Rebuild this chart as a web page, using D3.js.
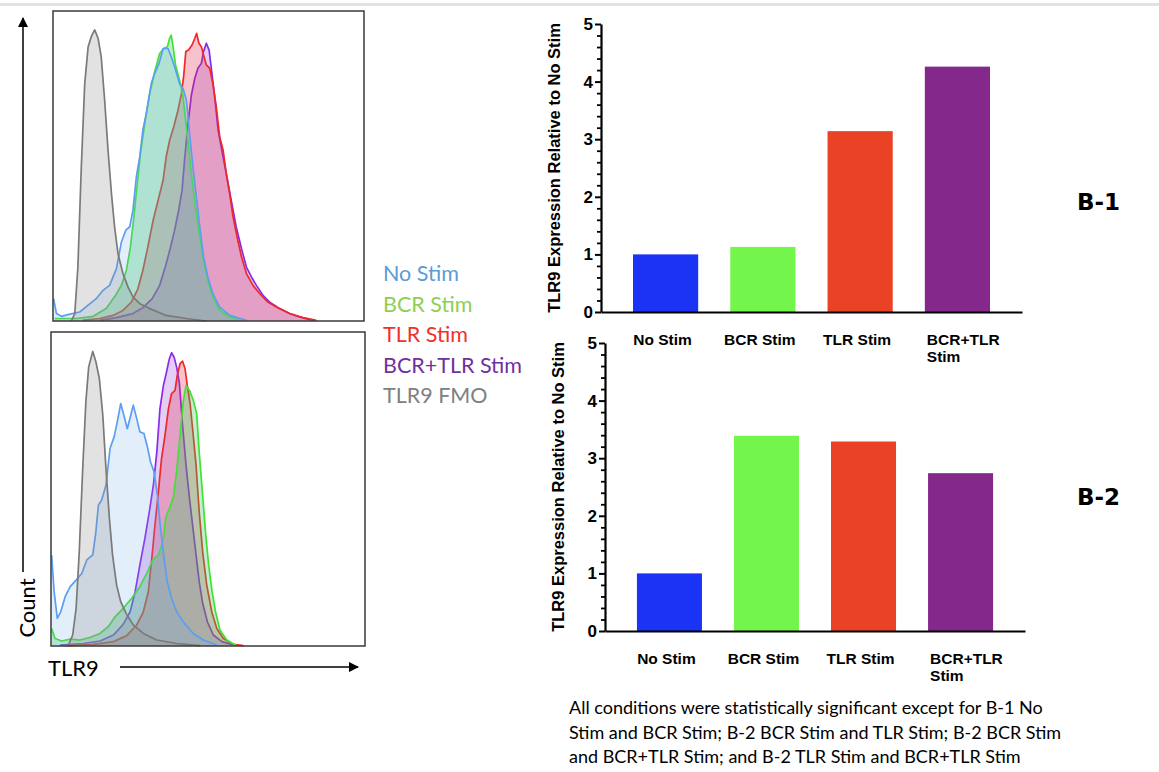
<!DOCTYPE html>
<html>
<head>
<meta charset="utf-8">
<script src="https://cdn.jsdelivr.net/npm/d3@7"></script>
<style>
  body { margin: 0; background: #fff; }
  svg { display: block; }
</style>
</head>
<body>
<div id="figure"></div>
<script>
// ---- Bar chart data (TLR9 expression relative to No Stim)
const categories = ["No Stim", "BCR Stim", "TLR Stim", "BCR+TLR Stim"];
const barColors = ["#1a33f5", "#73f54b", "#e94225", "#84298b"];
const b1Values = [1.0, 1.13, 3.14, 4.26];
const b2Values = [1.0, 3.39, 3.29, 2.74];
const yTicks = [0, 1, 2, 3, 4, 5];
const yMinorTicks = [0.2, 0.4, 0.6, 0.8, 1.2, 1.4, 1.6, 1.8, 2.2, 2.4, 2.6, 2.8,
  3.2, 3.4, 3.6, 3.8, 4.2, 4.4, 4.6, 4.8];

// ---- Histogram legend
const legendLabels = ["No Stim", "BCR Stim", "TLR Stim", "BCR+TLR Stim", "TLR9 FMO"];
const legendColors = ["#5b9bd5", "#8fce52", "#f0302a", "#7030a0", "#808080"];

// ---- Histogram curves: [TLR9 intensity (0-100), count (% of max)]
// top panel (B-1)
const p1NoStim = [[0.2,7.2],[1.1,2.4],[2.7,1.5],[5.4,2.2],[8.6,2.9],[11.3,5.1],[13.9,7.2],[16.1,9.9],[18.2,11.5],[20.4,16.9],[22.0,25.5],[23.4,29.3],[24.7,30.4],[25.7,35.7],[26.8,46.5],[27.9,53.0],[28.9,61.6],[30.0,67.0],[31.6,76.6],[32.7,79.9],[34.1,83.1],[35.4,87.9],[37.0,87.9],[38.0,85.3],[39.1,82.0],[40.7,76.6],[41.8,75.0],[42.9,71.3],[43.9,60.5],[45.0,49.7],[46.1,40.0],[47.2,30.4],[48.4,20.7],[49.8,14.2],[51.4,8.8],[53.6,4.5],[56.8,1.8],[62.2,0.2]];
const p1BcrStim = [[0.5,0.8],[7.5,0.8],[12.9,1.5],[17.1,4.0],[19.8,7.8],[22.0,11.5],[23.6,16.4],[24.9,23.9],[25.9,32.5],[27.0,43.3],[28.1,54.0],[29.5,63.7],[31.1,73.4],[32.7,80.4],[34.3,86.3],[35.6,87.9],[36.8,88.5],[37.5,91.2],[38.0,92.2],[38.6,88.5],[39.4,82.6],[40.7,77.7],[41.8,72.3],[42.9,62.6],[43.9,53.0],[45.0,43.3],[46.1,34.7],[47.2,27.1],[48.4,19.6],[49.8,13.1],[51.4,7.8],[53.6,3.4],[56.8,1.3],[60.0,0.2]];
const p1TlrStim = [[9.6,0.2],[15.0,0.8],[19.3,1.8],[22.5,3.4],[25.2,6.1],[27.3,10.4],[28.9,16.4],[30.5,23.9],[32.2,32.5],[33.8,39.0],[35.4,45.4],[36.4,53.0],[37.5,58.3],[38.8,62.6],[40.2,68.0],[41.3,73.4],[42.0,78.8],[42.7,86.9],[43.6,87.4],[44.7,89.0],[45.6,91.2],[46.2,92.8],[46.9,89.6],[47.7,88.5],[48.4,85.8],[49.3,82.6],[50.4,81.5],[51.4,76.6],[52.5,69.1],[53.6,59.4],[54.7,55.1],[55.7,47.6],[56.8,41.1],[57.9,33.6],[59.2,27.1],[60.6,20.7],[62.2,15.3],[64.3,11.5],[66.5,8.8],[69.1,6.1],[71.8,4.5],[76.1,2.4],[80.4,1.1],[84.7,0.2]];
const p1BcrTlrStim = [[15.0,0.2],[20.4,1.1],[25.7,2.4],[28.9,4.3],[31.9,7.2],[34.3,11.5],[36.1,17.4],[37.7,23.4],[39.1,29.3],[40.4,35.7],[41.5,42.2],[42.3,51.9],[43.4,63.7],[44.5,72.9],[45.6,78.3],[46.6,81.5],[47.7,83.1],[48.4,86.9],[49.3,89.6],[50.2,87.4],[50.9,81.5],[52.0,72.3],[53.1,61.6],[54.1,56.2],[55.7,47.6],[57.3,39.0],[58.9,30.4],[60.6,23.4],[62.2,17.4],[63.8,14.2],[65.4,11.5],[67.5,8.3],[69.7,6.1],[72.9,4.0],[76.1,2.4],[79.3,1.3],[83.6,0.2]];
const p1Fmo = [[5.9,0],[7.0,2.4],[8.0,17.4],[9.1,49.7],[10.2,76.6],[11.3,88.5],[12.3,91.7],[13.4,93.9],[14.5,91.2],[15.5,85.3],[16.6,71.3],[17.7,55.1],[18.8,41.1],[19.8,30.4],[20.9,21.7],[22.5,15.3],[24.1,11.0],[25.7,7.8],[27.9,5.6],[31.1,4.0],[36.4,1.8],[42.9,0.8],[49.3,0]];

// bottom panel (B-2)
const p2NoStim = [[0.2,29.0],[1.0,17.3],[2.0,8.8],[3.1,10.9],[4.5,15.7],[6.1,18.9],[8.0,21.0],[9.8,23.1],[11.4,27.4],[13.3,29.0],[14.3,36.4],[15.1,44.9],[16.1,46.4],[17.5,51.2],[18.8,62.9],[20.1,66.6],[21.1,71.4],[22.2,77.2],[23.2,73.5],[24.3,69.2],[25.4,73.5],[26.2,76.7],[27.3,72.4],[28.3,68.2],[29.6,67.7],[30.7,63.4],[31.7,58.6],[32.8,55.5],[33.9,48.0],[34.9,37.4],[36.0,27.9],[37.0,20.5],[38.4,15.2],[40.0,10.9],[42.1,7.7],[45.3,4.0],[48.5,1.9],[52.8,0.3]];
const p2BcrStim = [[0.2,5.6],[1.3,2.4],[3.4,1.6],[6.1,2.2],[9.2,1.9],[12.4,2.7],[15.6,4.0],[18.3,6.2],[20.4,9.3],[23.0,12.0],[25.7,15.2],[28.3,18.9],[30.5,23.1],[32.4,27.4],[34.2,29.0],[35.6,33.2],[36.6,41.1],[37.9,44.3],[39.0,47.5],[40.0,55.5],[41.1,67.1],[42.1,77.7],[43.0,83.0],[44.1,81.4],[45.3,78.3],[46.4,74.0],[47.2,61.8],[48.2,49.1],[49.2,36.4],[50.2,25.8],[51.3,17.3],[52.4,10.9],[53.8,5.1],[56.0,1.9],[59.1,0.1]];
const p2TlrStim = [[5.0,0.1],[13.5,0.5],[19.9,1.4],[24.1,3.3],[27.3,6.7],[29.4,10.9],[31.0,17.3],[32.1,27.9],[33.1,38.5],[34.2,49.1],[35.2,59.7],[36.3,67.1],[37.4,75.6],[38.4,80.4],[39.5,81.4],[40.2,86.2],[41.1,89.9],[41.9,90.7],[42.7,88.3],[43.4,83.0],[44.3,77.2],[45.1,69.2],[46.2,57.6],[47.2,42.7],[48.3,30.0],[49.6,19.4],[51.2,10.9],[52.8,5.6],[54.9,2.4],[58.1,0.5],[61.3,0.1]];
const p2BcrTlrStim = [[2.9,0.3],[10.3,0.8],[15.6,1.6],[19.9,3.5],[23.0,6.9],[25.2,10.9],[26.8,17.3],[28.3,25.8],[29.9,34.3],[31.3,42.7],[32.6,51.2],[33.7,61.8],[34.7,75.6],[35.8,83.0],[36.8,87.3],[37.7,91.5],[38.4,93.4],[39.2,92.0],[40.0,88.9],[40.9,83.6],[41.9,70.3],[43.0,57.6],[44.1,47.0],[45.1,38.5],[46.2,29.0],[47.2,20.5],[48.3,13.6],[49.8,7.7],[51.7,3.5],[54.4,1.4],[58.1,0.3]];
const p2Fmo = [[5.5,0.1],[6.9,3.5],[8.0,12.0],[9.0,30.0],[10.1,56.5],[11.1,77.7],[12.0,88.9],[13.3,93.8],[14.3,90.5],[15.4,85.2],[16.5,73.5],[17.5,56.5],[18.6,40.6],[19.6,29.0],[20.9,19.4],[22.2,14.1],[23.9,10.4],[26.2,6.7],[29.4,4.0],[33.7,1.9],[40.0,0.8],[47.5,0.1]];

const footnote = [
  "All conditions were statistically significant except for B-1 No",
  "Stim and BCR Stim; B-2 BCR Stim and TLR Stim; B-2 BCR Stim",
  "and BCR+TLR Stim; and B-2 TLR Stim and BCR+TLR Stim"
];

// ---- Page
const width = 1159, height = 772;
const svg = d3.select("#figure").append("svg")
  .attr("width", width).attr("height", height);

svg.append("rect").attr("x", 0).attr("y", 3).attr("width", width).attr("height", 3)
  .attr("fill", "#e2e2e2");

const calibri = "Lato, 'Open Sans', sans-serif";
const arial = "'Liberation Sans', Arial, sans-serif";

// series style, drawn in this order (later covers earlier)
const histStyle = [
  { key: "bcrtlr", stroke: "#8a2be8", fill: "#a050dc", op: 0.28 },
  { key: "tlr", stroke: "#f02828", fill: "#e0284a", op: 0.28 },
  { key: "bcr", stroke: "#44e034", fill: "#30cc5c", op: 0.3 },
  { key: "no", stroke: "#5c9ef2", fill: "#74a8ec", op: 0.2 },
  { key: "fmo", stroke: "#7a7a7a", fill: "#8a8a8a", op: 0.25 }
];

function drawHistogram(box, curves) {
  const x = d3.scaleLinear().domain([0, 100]).range([box.left, box.right]);
  const y = d3.scaleLinear().domain([0, 100]).range([box.bottom, box.top]);
  const area = d3.area().x(d => x(d[0])).y0(y(0)).y1(d => y(d[1]));
  const line = d3.line().x(d => x(d[0])).y(d => y(d[1]));
  const g = svg.append("g");

  histStyle.forEach(s => {
    g.append("path").datum(curves[s.key])
      .attr("d", area).attr("fill", s.fill).attr("fill-opacity", s.op);
    g.append("path").datum(curves[s.key])
      .attr("d", line).attr("fill", "none")
      .attr("stroke", s.stroke).attr("stroke-width", 1.7)
      .attr("stroke-linejoin", "round");
  });

  svg.append("rect")
    .attr("x", box.left).attr("y", box.top)
    .attr("width", box.right - box.left).attr("height", box.bottom - box.top)
    .attr("fill", "none").attr("stroke", "#3a3a3a").attr("stroke-width", 1.5);
}

drawHistogram({ left: 53, right: 364, top: 11, bottom: 321 },
  { no: p1NoStim, bcr: p1BcrStim, tlr: p1TlrStim, bcrtlr: p1BcrTlrStim, fmo: p1Fmo });
drawHistogram({ left: 51, right: 365, top: 332, bottom: 646 },
  { no: p2NoStim, bcr: p2BcrStim, tlr: p2TlrStim, bcrtlr: p2BcrTlrStim, fmo: p2Fmo });

// arrows
const defs = svg.append("defs");
defs.append("marker").attr("id", "arrow")
  .attr("viewBox", "0 0 10 10").attr("refX", 9).attr("refY", 5)
  .attr("markerWidth", 7).attr("markerHeight", 7).attr("orient", "auto")
  .append("path").attr("d", "M0,0 L10,5 L0,10 Z").attr("fill", "#000");

svg.append("line").attr("x1", 23).attr("y1", 572).attr("x2", 23).attr("y2", 18)
  .attr("stroke", "#000").attr("stroke-width", 1.5).attr("marker-end", "url(#arrow)");
svg.append("line").attr("x1", 120).attr("y1", 667).attr("x2", 358).attr("y2", 667)
  .attr("stroke", "#000").attr("stroke-width", 1.5).attr("marker-end", "url(#arrow)");

svg.append("text").attr("transform", "translate(35,608) rotate(-90)")
  .attr("text-anchor", "middle").attr("font-family", calibri).attr("font-size", 22)
  .text("Count");
svg.append("text").attr("x", 48).attr("y", 676)
  .attr("font-family", calibri).attr("font-size", 22).text("TLR9");

// legend
svg.append("g").selectAll("text").data(legendLabels).join("text")
  .attr("x", 383).attr("y", (d, i) => 281 + i * 30.5)
  .attr("font-family", calibri).attr("font-size", 21.5)
  .attr("fill", (d, i) => legendColors[i])
  .text(d => d);

// ---- Bar charts
function drawBars(box, values, tag) {
  const x = d3.scaleBand().domain(categories)
    .range([box.x0, box.x1]).paddingInner(0.33).paddingOuter(0.329);
  const y = d3.scaleLinear().domain([0, 5]).range([box.y0, box.y5]);
  const g = svg.append("g");

  g.selectAll("rect").data(values).join("rect")
    .attr("x", (d, i) => x(categories[i]))
    .attr("y", d => y(d))
    .attr("width", x.bandwidth())
    .attr("height", d => y(0) - y(d))
    .attr("fill", (d, i) => barColors[i]);

  // minor + major y ticks
  g.append("g").attr("transform", `translate(${box.x0},0)`)
    .call(d3.axisLeft(y).tickValues(yMinorTicks).tickSize(4).tickFormat("").tickSizeOuter(0))
    .call(a => a.select(".domain").remove())
    .call(a => a.selectAll("line").attr("stroke-width", 1.8));
  const ya = g.append("g").attr("transform", `translate(${box.x0},0)`)
    .call(d3.axisLeft(y).tickValues(yTicks).tickSize(6).tickPadding(2)
      .tickFormat(d3.format("d")).tickSizeOuter(0));
  ya.select(".domain").attr("stroke-width", 2.2);
  ya.selectAll("line").attr("stroke-width", 2);
  ya.selectAll("text")
    .style("font-family", arial).style("font-weight", "bold")
    .style("font-size", "17px").attr("fill", "#000");

  const xa = g.append("g").attr("transform", `translate(0,${box.y0})`)
    .call(d3.axisBottom(x).tickSize(0).tickFormat("").tickSizeOuter(0));
  xa.select(".domain").attr("stroke-width", 2.2);

  // category labels
  categories.forEach((c, i) => {
    const words = c === "BCR+TLR Stim" ? ["BCR+TLR", "Stim"] : [c];
    const t = g.append("text")
      .attr("font-family", arial).attr("font-weight", "bold").attr("font-size", 15.5)
      .attr("text-anchor", words.length > 1 ? "start" : "middle");
    const tx = words.length > 1 ? x(c) + 2 : x(c) + x.bandwidth() / 2 - 3;
    words.forEach((w, j) => {
      t.append("tspan").attr("x", tx).attr("y", box.y0 + 33 + j * 17).text(w);
    });
  });

  // axis title
  g.append("text")
    .attr("transform", `translate(${box.x0 - 41},${(box.y0 + box.y5) / 2}) rotate(-90)`)
    .attr("text-anchor", "middle").attr("font-family", arial)
    .attr("font-weight", "bold").attr("font-size", 16.5)
    .text("TLR9 Expression Relative to No Stim");

  // panel tag
  svg.append("text").attr("x", 1077).attr("y", tag.y)
    .attr("font-family", "'DejaVu Sans', Verdana, sans-serif").attr("font-weight", "bold")
    .attr("font-size", 23).text(tag.text);
}

drawBars({ x0: 601, x1: 1022, y0: 312, y5: 24 }, b1Values, { text: "B-1", y: 210 });
drawBars({ x0: 605, x1: 1025, y0: 631, y5: 343 }, b2Values, { text: "B-2", y: 505 });

// footnote
svg.append("g").selectAll("text").data(footnote).join("text")
  .attr("x", 569).attr("y", (d, i) => 714 + i * 24.5)
  .attr("font-family", calibri).attr("font-size", 18).attr("fill", "#000")
  .text(d => d);
</script>
</body>
</html>
